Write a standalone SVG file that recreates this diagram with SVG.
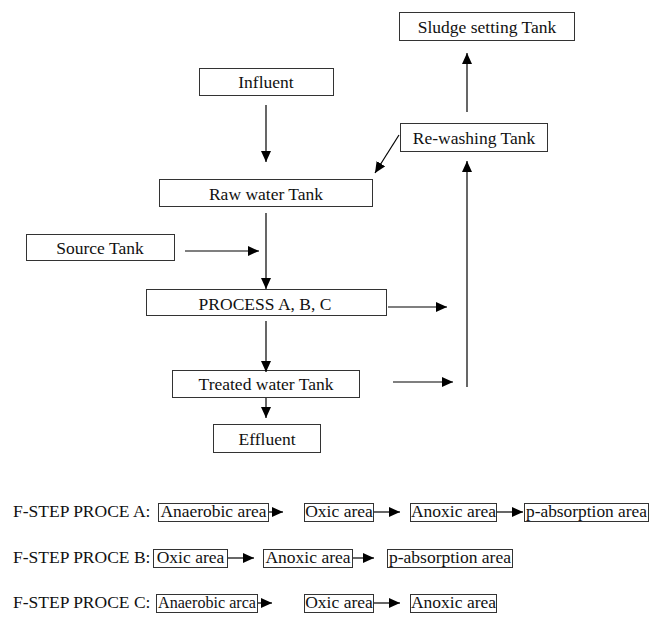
<svg xmlns="http://www.w3.org/2000/svg" width="651" height="624" viewBox="0 0 651 624">
<defs>
<marker id="ah" markerUnits="userSpaceOnUse" markerWidth="12" markerHeight="10" refX="11" refY="5" orient="auto">
<path d="M0,0 L11,5 L0,10 Z" fill="#000"/>
</marker>
<style>
.box{fill:#fff;stroke:#333;stroke-width:1}
.t{font-family:"Liberation Serif","Times New Roman",serif;font-size:17.5px;fill:#111;text-anchor:middle}
.l{font-family:"Liberation Serif","Times New Roman",serif;font-size:17.5px;fill:#111}
.c{stroke:#000;stroke-width:1.2;fill:none;marker-end:url(#ah)}
</style>
</defs>
<rect width="651" height="624" fill="#fff"/>
<g id="sludge"><rect class="box" x="399.5" y="12.5" width="175" height="28"/><text class="t" x="487" y="33">Sludge setting Tank</text></g>
<g id="influent"><rect class="box" x="199.5" y="68.5" width="134" height="27"/><text class="t" x="266" y="88">Influent</text></g>
<g id="rewashing"><rect class="box" x="400.5" y="123.5" width="147" height="28"/><text class="t" x="474" y="144">Re-washing Tank</text></g>
<g id="raw"><rect class="box" x="159.5" y="179.5" width="213" height="27"/><text class="t" x="266" y="199.5">Raw water Tank</text></g>
<g id="source"><rect class="box" x="26.5" y="234.5" width="148" height="26"/><text class="t" x="100" y="253.5">Source Tank</text></g>
<g id="process"><rect class="box" x="146.5" y="289.5" width="240" height="26"/><text class="t" x="265" y="309.5">PROCESS A, B, C</text></g>
<g id="treated"><rect class="box" x="172.5" y="370.5" width="187" height="27"/><text class="t" x="266" y="390">Treated water Tank</text></g>
<g id="effluent"><rect class="box" x="213.5" y="424.5" width="107" height="28"/><text class="t" x="267" y="445">Effluent</text></g>
<g id="rowA">
<text class="l" x="13" y="517">F-STEP PROCE A:</text>
<g id="a1"><rect class="box" x="158.5" y="503.5" width="110" height="18"/><text class="t" x="213.5" y="517" textLength="106" lengthAdjust="spacingAndGlyphs">Anaerobic area</text></g>
<g id="a2"><rect class="box" x="304.5" y="503.5" width="69" height="18"/><text class="t" x="339" y="517">Oxic area</text></g>
<g id="a3"><rect class="box" x="410.5" y="503.5" width="86" height="18"/><text class="t" x="453.5" y="517">Anoxic area</text></g>
<g id="a4"><rect class="box" x="524.5" y="503.5" width="124" height="18"/><text class="t" x="586.5" y="517" textLength="121" lengthAdjust="spacingAndGlyphs">p-absorption area</text></g>
</g>
<g id="rowB">
<text class="l" x="13" y="563">F-STEP PROCE B:</text>
<g id="b1"><rect class="box" x="153.5" y="549.5" width="74" height="18"/><text class="t" x="190.5" y="563">Oxic area</text></g>
<g id="b2"><rect class="box" x="263.5" y="549.5" width="89" height="18"/><text class="t" x="308" y="563">Anoxic area</text></g>
<g id="b3"><rect class="box" x="387.5" y="549.5" width="125" height="18"/><text class="t" x="450" y="563">p-absorption area</text></g>
</g>
<g id="rowC">
<text class="l" x="13" y="608">F-STEP PROCE C:</text>
<g id="c1"><rect class="box" x="156.5" y="594.5" width="101" height="18"/><text class="t" x="207" y="608" textLength="98" lengthAdjust="spacingAndGlyphs">Anaerobic arca</text></g>
<g id="c2"><rect class="box" x="304.5" y="594.5" width="69" height="18"/><text class="t" x="339" y="608">Oxic area</text></g>
<g id="c3"><rect class="box" x="410.5" y="594.5" width="86" height="18"/><text class="t" x="453.5" y="608">Anoxic area</text></g>
</g>
<g id="connectors">
<line class="c" x1="266" y1="105" x2="266" y2="162"/>
<line class="c" x1="266" y1="213" x2="266" y2="289"/>
<line class="c" x1="185" y1="251" x2="259" y2="251"/>
<line class="c" x1="266" y1="321" x2="266" y2="372"/>
<line class="c" x1="266" y1="398" x2="266" y2="418"/>
<line class="c" x1="388" y1="307" x2="447" y2="307"/>
<line class="c" x1="393" y1="382" x2="453" y2="382"/>
<line class="c" x1="467" y1="387" x2="467" y2="161"/>
<line class="c" x1="467" y1="112" x2="467" y2="53"/>
<line class="c" x1="399" y1="135" x2="375" y2="173"/>
<line class="c" x1="269" y1="512" x2="283" y2="512"/>
<line class="c" x1="374" y1="512" x2="400" y2="512"/>
<line class="c" x1="497" y1="512" x2="523" y2="512"/>
<line class="c" x1="228" y1="558" x2="254" y2="558"/>
<line class="c" x1="353" y1="558" x2="374" y2="558"/>
<line class="c" x1="258" y1="603" x2="272" y2="603"/>
<line class="c" x1="374" y1="603" x2="400" y2="603"/>
</g>
</svg>
